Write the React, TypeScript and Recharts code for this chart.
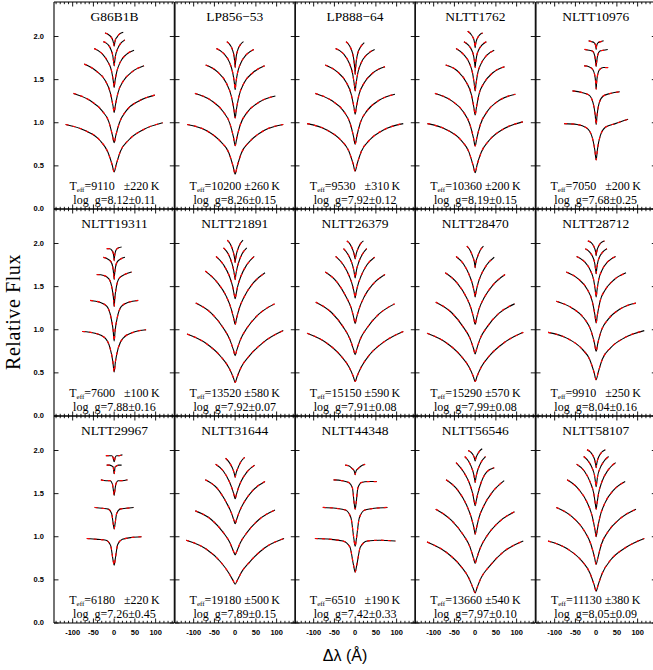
import React from 'react';
import { LineChart, Line, XAxis, YAxis } from 'recharts';

// Sample positions inside each line window, as a fraction of the half-window (Å)
const OFFSETS = [-1, -0.6, -0.3, -0.13, -0.04, 0, 0.04, 0.13, 0.3, 0.6, 1];

// One row per Balmer line: [half-window in Å, flux at each OFFSETS point]
const G86B1B = [
  [117, 0.98, 0.91, 0.8, 0.66, 0.51, 0.43, 0.51, 0.67, 0.8, 0.92, 1.0],
  [98, 1.34, 1.26, 1.14, 1.01, 0.85, 0.77, 0.85, 1.0, 1.14, 1.25, 1.32],
  [72, 1.68, 1.6, 1.49, 1.35, 1.2, 1.12, 1.2, 1.35, 1.48, 1.59, 1.66],
  [48, 1.86, 1.8, 1.7, 1.6, 1.48, 1.41, 1.48, 1.59, 1.7, 1.79, 1.84],
  [26, 1.94, 1.91, 1.85, 1.78, 1.7, 1.66, 1.7, 1.78, 1.85, 1.92, 1.96],
  [22, 2.04, 2.02, 1.99, 1.95, 1.91, 1.89, 1.91, 1.96, 1.99, 2.03, 2.05],
];
const LP856_53 = [
  [116, 0.98, 0.91, 0.78, 0.65, 0.49, 0.405, 0.49, 0.65, 0.78, 0.91, 0.98],
  [97, 1.34, 1.26, 1.13, 0.99, 0.83, 0.735, 0.82, 0.98, 1.12, 1.24, 1.31],
  [71, 1.67, 1.59, 1.46, 1.31, 1.15, 1.055, 1.15, 1.31, 1.46, 1.58, 1.66],
  [45, 1.86, 1.8, 1.7, 1.58, 1.46, 1.385, 1.46, 1.58, 1.69, 1.79, 1.85],
  [20, 1.94, 1.9, 1.84, 1.77, 1.69, 1.64, 1.69, 1.77, 1.84, 1.9, 1.94],
];
const LP888_64 = [
  [116, 0.99, 0.92, 0.8, 0.67, 0.52, 0.44, 0.52, 0.67, 0.8, 0.92, 0.99],
  [96, 1.34, 1.26, 1.14, 1.0, 0.84, 0.75, 0.84, 1.0, 1.14, 1.26, 1.33],
  [72, 1.67, 1.59, 1.47, 1.33, 1.18, 1.1, 1.18, 1.33, 1.46, 1.58, 1.65],
  [47, 1.86, 1.8, 1.69, 1.57, 1.44, 1.37, 1.44, 1.57, 1.69, 1.79, 1.85],
  [22, 1.94, 1.89, 1.81, 1.72, 1.62, 1.56, 1.62, 1.72, 1.81, 1.88, 1.93],
];
const NLTT1762 = [
  [115, 0.99, 0.92, 0.8, 0.66, 0.5, 0.42, 0.51, 0.66, 0.8, 0.93, 1.01],
  [97, 1.34, 1.26, 1.13, 0.98, 0.82, 0.73, 0.82, 0.98, 1.13, 1.26, 1.33],
  [71, 1.67, 1.6, 1.47, 1.33, 1.17, 1.09, 1.17, 1.33, 1.46, 1.58, 1.65],
  [46, 1.86, 1.79, 1.69, 1.57, 1.44, 1.37, 1.44, 1.57, 1.68, 1.78, 1.84],
  [27, 1.94, 1.9, 1.84, 1.77, 1.69, 1.64, 1.69, 1.77, 1.84, 1.9, 1.94],
  [18, 2.06, 2.03, 1.99, 1.95, 1.9, 1.87, 1.9, 1.94, 1.98, 2.02, 2.04],
];
const NLTT10976 = [
  [77, 0.99, 0.98, 0.94, 0.84, 0.68, 0.57, 0.69, 0.85, 0.95, 0.99, 1.04],
  [57, 1.37, 1.35, 1.32, 1.23, 1.09, 0.98, 1.09, 1.23, 1.31, 1.34, 1.36],
  [29, 1.66, 1.65, 1.62, 1.56, 1.47, 1.39, 1.47, 1.56, 1.62, 1.64, 1.64],
  [28, 1.85, 1.84, 1.83, 1.78, 1.7, 1.65, 1.7, 1.78, 1.83, 1.84, 1.85],
  [18, 1.95, 1.94, 1.93, 1.91, 1.88, 1.85, 1.88, 1.91, 1.93, 1.94, 1.95],
];
const NLTT19311 = [
  [77, 0.98, 0.96, 0.91, 0.79, 0.63, 0.51, 0.63, 0.79, 0.91, 0.97, 1.0],
  [58, 1.34, 1.32, 1.27, 1.14, 0.99, 0.87, 0.99, 1.14, 1.27, 1.32, 1.34],
  [42, 1.64, 1.63, 1.59, 1.49, 1.37, 1.27, 1.37, 1.5, 1.6, 1.64, 1.67],
  [26, 1.84, 1.82, 1.79, 1.73, 1.64, 1.58, 1.64, 1.73, 1.79, 1.82, 1.84],
  [18, 1.94, 1.94, 1.92, 1.89, 1.84, 1.8, 1.84, 1.89, 1.93, 1.95, 1.96],
];
const NLTT21891 = [
  [116, 0.95, 0.84, 0.69, 0.56, 0.45, 0.39, 0.45, 0.57, 0.7, 0.86, 0.99],
  [95, 1.31, 1.19, 1.02, 0.88, 0.76, 0.7, 0.76, 0.88, 1.02, 1.18, 1.3],
  [72, 1.68, 1.55, 1.39, 1.24, 1.12, 1.06, 1.12, 1.24, 1.38, 1.54, 1.66],
  [46, 1.85, 1.75, 1.62, 1.5, 1.4, 1.36, 1.4, 1.5, 1.62, 1.75, 1.85],
  [28, 1.95, 1.88, 1.78, 1.69, 1.62, 1.58, 1.62, 1.69, 1.78, 1.88, 1.95],
  [19, 2.04, 1.99, 1.92, 1.86, 1.81, 1.78, 1.81, 1.86, 1.92, 1.99, 2.04],
];
const NLTT26379 = [
  [116, 0.96, 0.85, 0.7, 0.57, 0.46, 0.4, 0.46, 0.57, 0.71, 0.86, 0.98],
  [95, 1.32, 1.2, 1.03, 0.89, 0.77, 0.71, 0.77, 0.89, 1.02, 1.18, 1.3],
  [72, 1.67, 1.55, 1.38, 1.25, 1.13, 1.07, 1.13, 1.24, 1.38, 1.53, 1.64],
  [47, 1.85, 1.75, 1.62, 1.51, 1.42, 1.37, 1.42, 1.51, 1.62, 1.75, 1.84],
  [28, 1.94, 1.87, 1.78, 1.7, 1.63, 1.6, 1.63, 1.7, 1.78, 1.87, 1.94],
  [20, 2.03, 1.99, 1.93, 1.88, 1.84, 1.82, 1.84, 1.88, 1.93, 1.99, 2.03],
];
const NLTT28470 = [
  [116, 0.96, 0.85, 0.7, 0.57, 0.46, 0.4, 0.46, 0.57, 0.7, 0.85, 0.97],
  [95, 1.32, 1.2, 1.03, 0.9, 0.78, 0.72, 0.78, 0.9, 1.03, 1.19, 1.3],
  [72, 1.66, 1.54, 1.38, 1.24, 1.12, 1.06, 1.12, 1.24, 1.37, 1.52, 1.64],
  [46, 1.85, 1.76, 1.63, 1.52, 1.43, 1.38, 1.43, 1.52, 1.63, 1.75, 1.84],
  [20, 1.97, 1.92, 1.85, 1.8, 1.75, 1.72, 1.75, 1.8, 1.85, 1.92, 1.97],
];
const NLTT28712 = [
  [116, 0.97, 0.9, 0.78, 0.65, 0.5, 0.42, 0.5, 0.66, 0.79, 0.91, 0.99],
  [96, 1.33, 1.25, 1.13, 0.99, 0.84, 0.75, 0.84, 0.99, 1.12, 1.24, 1.31],
  [72, 1.67, 1.59, 1.47, 1.33, 1.17, 1.08, 1.17, 1.33, 1.46, 1.58, 1.66],
  [47, 1.85, 1.79, 1.69, 1.58, 1.45, 1.38, 1.45, 1.58, 1.69, 1.79, 1.85],
  [26, 1.94, 1.9, 1.84, 1.77, 1.69, 1.65, 1.69, 1.77, 1.84, 1.9, 1.94],
  [20, 2.03, 2.01, 1.97, 1.93, 1.89, 1.86, 1.89, 1.93, 1.97, 2.01, 2.03],
];
const NLTT29967 = [
  [66, 0.98, 0.97, 0.96, 0.9, 0.73, 0.67, 0.74, 0.91, 0.97, 0.99, 1.0],
  [47, 1.34, 1.33, 1.32, 1.27, 1.14, 1.09, 1.14, 1.27, 1.32, 1.33, 1.34],
  [32, 1.66, 1.65, 1.65, 1.61, 1.52, 1.48, 1.52, 1.61, 1.65, 1.65, 1.66],
  [18, 1.83, 1.83, 1.82, 1.81, 1.75, 1.73, 1.75, 1.81, 1.82, 1.83, 1.83],
  [20, 1.94, 1.94, 1.94, 1.92, 1.88, 1.87, 1.88, 1.92, 1.94, 1.94, 1.95],
];
const NLTT31644 = [
  [118, 0.96, 0.86, 0.71, 0.58, 0.49, 0.45, 0.49, 0.59, 0.71, 0.87, 0.98],
  [96, 1.3, 1.2, 1.05, 0.93, 0.83, 0.79, 0.83, 0.93, 1.05, 1.2, 1.31],
  [72, 1.66, 1.56, 1.4, 1.28, 1.19, 1.15, 1.19, 1.28, 1.4, 1.54, 1.64],
  [47, 1.84, 1.76, 1.64, 1.54, 1.47, 1.44, 1.47, 1.54, 1.64, 1.75, 1.83],
  [23, 1.91, 1.86, 1.8, 1.75, 1.71, 1.69, 1.71, 1.75, 1.8, 1.87, 1.92],
];
const NLTT44348 = [
  [97, 0.98, 0.97, 0.95, 0.88, 0.67, 0.59, 0.67, 0.88, 0.95, 0.96, 0.95],
  [78, 1.34, 1.33, 1.31, 1.22, 0.98, 0.89, 0.98, 1.22, 1.31, 1.33, 1.34],
  [52, 1.66, 1.65, 1.63, 1.57, 1.38, 1.32, 1.38, 1.57, 1.63, 1.64, 1.64],
  [24, 1.83, 1.82, 1.79, 1.77, 1.74, 1.72, 1.74, 1.77, 1.79, 1.82, 1.84],
];
const NLTT56546 = [
  [116, 0.94, 0.82, 0.66, 0.52, 0.4, 0.35, 0.41, 0.53, 0.66, 0.83, 0.95],
  [95, 1.32, 1.19, 1.02, 0.88, 0.75, 0.69, 0.75, 0.87, 1.01, 1.17, 1.29],
  [70, 1.66, 1.54, 1.37, 1.22, 1.1, 1.03, 1.09, 1.22, 1.36, 1.52, 1.65],
  [46, 1.86, 1.75, 1.62, 1.5, 1.4, 1.36, 1.4, 1.49, 1.62, 1.75, 1.8],
  [25, 1.93, 1.87, 1.79, 1.72, 1.66, 1.63, 1.66, 1.72, 1.79, 1.87, 1.93],
  [17, 2.0, 1.98, 1.95, 1.92, 1.89, 1.88, 1.89, 1.92, 1.95, 1.99, 2.02],
];
const NLTT58107 = [
  [116, 0.95, 0.86, 0.72, 0.58, 0.44, 0.37, 0.44, 0.58, 0.73, 0.87, 0.98],
  [96, 1.34, 1.23, 1.07, 0.91, 0.76, 0.68, 0.75, 0.91, 1.06, 1.21, 1.32],
  [70, 1.66, 1.55, 1.39, 1.23, 1.08, 1.0, 1.08, 1.23, 1.39, 1.54, 1.64],
  [47, 1.84, 1.76, 1.63, 1.51, 1.38, 1.32, 1.38, 1.51, 1.64, 1.77, 1.86],
  [30, 1.93, 1.87, 1.79, 1.71, 1.62, 1.58, 1.62, 1.71, 1.79, 1.87, 1.93],
  [22, 2.01, 1.98, 1.93, 1.88, 1.83, 1.8, 1.83, 1.88, 1.93, 1.98, 2.01],
];

const STARS = [
  'G86B1B', 'LP856\u221253', 'LP888\u221264', 'NLTT1762', 'NLTT10976',
  'NLTT19311', 'NLTT21891', 'NLTT26379', 'NLTT28470', 'NLTT28712',
  'NLTT29967', 'NLTT31644', 'NLTT44348', 'NLTT56546', 'NLTT58107',
];
const PROFILES = [
  G86B1B, LP856_53, LP888_64, NLTT1762, NLTT10976,
  NLTT19311, NLTT21891, NLTT26379, NLTT28470, NLTT28712,
  NLTT29967, NLTT31644, NLTT44348, NLTT56546, NLTT58107,
];
const TEFF = [9110, 10200, 9530, 10360, 7050, 7600, 13520, 15150, 15290, 9910, 6180, 19180, 6510, 13660, 11130];
const TEFF_ERR = [220, 260, 310, 200, 200, 100, 580, 590, 570, 250, 220, 500, 190, 540, 380];
const LOGG = ['8.12', '8.26', '7.92', '8.19', '7.68', '7.88', '7.92', '7.91', '7.99', '8.04', '7.26', '7.89', '7.42', '7.97', '8.05'];
const LOGG_ERR = ['0.11', '0.15', '0.12', '0.15', '0.25', '0.16', '0.07', '0.08', '0.08', '0.16', '0.45', '0.15', '0.33', '0.10', '0.09'];

const X_TICKS = [-140, -130, -120, -110, -100, -90, -80, -70, -60, -50, -40, -30, -20, -10, 0, 10, 20, 30, 40, 50, 60, 70, 80, 90, 100, 110, 120, 130, 140];
const X_MAJOR = [-100, -50, 0, 50, 100];
const Y_TICKS = [0, 0.5, 1, 1.5, 2];

// panel geometry (px)
const PW = 120.3;
const PH = 207;
const X0 = 54.3;
const Y0 = 2.2;
const ML = 34;
const MR = 4;
const MT = 4;
const MB = 20;

const LABEL_FONT = '"Liberation Sans", Arial, sans-serif';
const SERIF = '"Liberation Serif", "Times New Roman", serif';

function toPoints(row: number[]) {
  const [ext, ...flux] = row;
  return flux.map((y, i) => ({ x: OFFSETS[i] * ext, y }));
}

function XTick(props: any) {
  const { x, y, payload, side, showLabel } = props;
  const v = payload.value;
  const major = X_MAJOR.includes(v);
  const len = major ? 4.5 : 2.2;
  const dir = side === 'bottom' ? -1 : 1;
  return (
    <g>
      <line x1={x} x2={x} y1={y} y2={y + dir * len} stroke="#000" strokeWidth={0.9} />
      {showLabel && major && (
        <text x={x} y={y + 12} textAnchor="middle" fontSize={7.5} fontWeight="bold" fontFamily={LABEL_FONT} fill="#000">
          {v}
        </text>
      )}
    </g>
  );
}

function YTick(props: any) {
  const { x, y, payload, side, showLabel } = props;
  const v = payload.value;
  const dir = side === 'left' ? 1 : -1;
  return (
    <g>
      <line x1={x} x2={x + dir * 4.5} y1={y} y2={y} stroke="#000" strokeWidth={0.9} />
      {showLabel && (
        <text x={x - 10} y={y + 2.5} textAnchor="end" fontSize={7.5} fontWeight="bold" fontFamily={LABEL_FONT} fill="#000">
          {v.toFixed(1)}
        </text>
      )}
    </g>
  );
}

function Panel({ idx }: { idx: number }) {
  const r = Math.floor(idx / 5);
  const c = idx % 5;
  const lines = PROFILES[idx].map(toPoints);
  const axisLine = { stroke: '#000', strokeWidth: 1.1 };
  return (
    <div style={{ position: 'absolute', left: X0 + c * PW - ML, top: Y0 + r * PH - MT }}>
      <LineChart
        width={PW + ML + MR}
        height={PH + MT + MB}
        margin={{ top: MT - 1, right: MR - 1, bottom: MB - 1, left: ML - 1 }}
      >
        <XAxis xAxisId="b" orientation="bottom" type="number" dataKey="x" domain={[-145, 145]} allowDataOverflow
          ticks={X_TICKS} interval={0} height={1} tickLine={false} tickSize={0} tickMargin={0} axisLine={axisLine}
          tick={<XTick side="bottom" showLabel={r === 2} />} />
        <XAxis xAxisId="t" orientation="top" type="number" dataKey="x" domain={[-145, 145]} allowDataOverflow
          ticks={X_TICKS} interval={0} height={1} tickLine={false} tickSize={0} tickMargin={0} axisLine={axisLine}
          tick={<XTick side="top" showLabel={false} />} />
        <YAxis yAxisId="l" orientation="left" type="number" domain={[0, 2.4]} allowDataOverflow
          ticks={Y_TICKS} interval={0} width={1} tickLine={false} tickSize={0} tickMargin={0} axisLine={axisLine}
          tick={<YTick side="left" showLabel={c === 0} />} />
        <YAxis yAxisId="r" orientation="right" type="number" domain={[0, 2.4]} allowDataOverflow
          ticks={Y_TICKS} interval={0} width={1} tickLine={false} tickSize={0} tickMargin={0} axisLine={axisLine}
          tick={<YTick side="right" showLabel={false} />} />
        {lines.map((d, i) => (
          <Line key={`obs-${i}`} xAxisId="b" yAxisId="l" data={d} dataKey="y" type="monotone"
            stroke="#000" strokeWidth={1.1} dot={false} activeDot={false} isAnimationActive={false} />
        ))}
        {lines.map((d, i) => (
          <Line key={`fit-${i}`} xAxisId="b" yAxisId="l" data={d} dataKey="y" type="monotone"
            stroke="#ff0000" strokeWidth={1.2} strokeDasharray="3 4" dot={false} activeDot={false} isAnimationActive={false} />
        ))}
      </LineChart>
    </div>
  );
}

export default function App() {
  return (
    <div style={{ position: 'absolute', left: 0, top: 0, width: 653, height: 670, background: '#fff', overflow: 'hidden' }}>
      {STARS.map((_, i) => <Panel key={i} idx={i} />)}
      <svg width={653} height={670} style={{ position: 'absolute', left: 0, top: 0, pointerEvents: 'none' }}>
        {STARS.map((name, i) => {
          const r = Math.floor(i / 5);
          const c = i % 5;
          const cx = X0 + c * PW + PW / 2;
          const top = Y0 + r * PH;
          const pad = TEFF[i] < 10000 ? '   ' : ' ';
          return (
            <g key={name} fontFamily={SERIF} fill="#000">
              <text x={cx} y={top + 19} textAnchor="middle" fontSize={13.5}>{name}</text>
              <text x={cx} y={top + 188} textAnchor="middle" fontSize={12} style={{ whiteSpace: 'pre' }}>
                <tspan>T</tspan>
                <tspan fontSize={7} dy={2}>eff</tspan>
                <tspan dy={-2}>{`=${TEFF[i]}${pad}\u00b1${TEFF_ERR[i]}\u2009K`}</tspan>
              </text>
              <text x={cx} y={top + 202} textAnchor="middle" fontSize={12} style={{ whiteSpace: 'pre' }}>
                {`log  g=${LOGG[i]}\u00b1${LOGG_ERR[i]}`}
              </text>
            </g>
          );
        })}
        <text transform="translate(20,312) rotate(-90)" textAnchor="middle" fontSize={20} fontFamily={SERIF} letterSpacing={0.6} fill="#000">
          Relative Flux
        </text>
        <text x={345} y={661} textAnchor="middle" fontSize={16} fontFamily={LABEL_FONT} fill="#000">
          {'\u0394\u03bb  (\u00c5)'}
        </text>
      </svg>
    </div>
  );
}
